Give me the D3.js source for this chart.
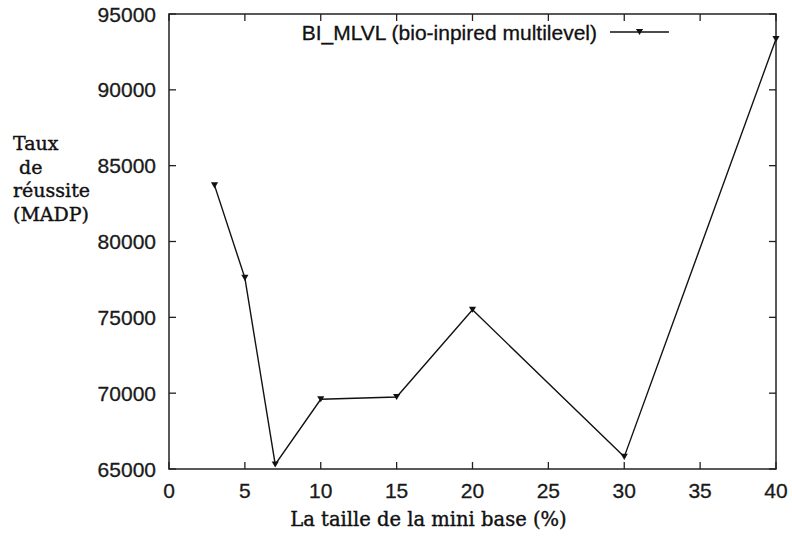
<!DOCTYPE html>
<html><head><meta charset="utf-8">
<script src="https://cdn.jsdelivr.net/npm/d3@7"></script>
<style>body{margin:0;background:#fff}svg{display:block}</style>
</head><body><svg id="c" width="792" height="538"></svg>
<script>
const xValues = [3, 5, 7, 10, 15, 20, 30, 40];
const yValues = [83700, 77600, 65300, 69600, 69750, 75500, 65800, 93350];
const xTicks = [0, 5, 10, 15, 20, 25, 30, 35, 40];
const yTicks = [65000, 70000, 75000, 80000, 85000, 90000, 95000];
const seriesName = "BI_MLVL (bio-inpired multilevel)";
const xTitle = "La taille de la mini base (%)";
const yTitleLines = ["Taux", " de", "réussite", "(MADP)"];

const svg = d3.select("#c");
const L = 169, R = 776, T = 14, B = 469;
const x = d3.scaleLinear().domain([0, 40]).range([L, R]);
const y = d3.scaleLinear().domain([65000, 95000]).range([B, T]);
const axisColor = "#222";
const sans = "'Liberation Sans', Arial, sans-serif";
const serif = "'DejaVu Serif', serif";

// ticks (inward, mirrored)
const tl = 7;
const g = svg.append("g").attr("stroke", axisColor).attr("stroke-width", 1.3);
xTicks.forEach(t => {
  g.append("line").attr("x1", x(t)).attr("x2", x(t)).attr("y1", B).attr("y2", B - tl);
  g.append("line").attr("x1", x(t)).attr("x2", x(t)).attr("y1", T).attr("y2", T + tl);
});
yTicks.forEach(t => {
  g.append("line").attr("x1", L).attr("x2", L + tl).attr("y1", y(t)).attr("y2", y(t));
  g.append("line").attr("x1", R).attr("x2", R - tl).attr("y1", y(t)).attr("y2", y(t));
});
svg.append("rect").attr("x", L).attr("y", T).attr("width", R - L).attr("height", B - T)
  .attr("fill", "none").attr("stroke", axisColor).attr("stroke-width", 1.5);

// tick labels
const tickStyle = sel => sel.attr("font-family", sans).attr("font-size", 21)
  .attr("fill", "#1a1a1a").attr("stroke", "#1a1a1a").attr("stroke-width", 0.3);
svg.append("g").selectAll("text").data(xTicks).join("text")
  .attr("x", d => x(d)).attr("y", 497.5).attr("text-anchor", "middle").call(tickStyle).text(d => d);
svg.append("g").selectAll("text").data(yTicks).join("text")
  .attr("x", 156).attr("y", d => y(d) + 7.5).attr("text-anchor", "end").call(tickStyle).text(d => d);

// titles
const serifStyle = sel => sel.attr("font-family", serif).attr("font-size", 19.5)
  .attr("fill", "#111").attr("stroke", "#111").attr("stroke-width", 0.4);
svg.append("text").attr("x", 428.5).attr("y", 526).attr("text-anchor", "middle")
  .call(serifStyle).text(xTitle);
const yt = svg.append("text").call(serifStyle).attr("font-size", 19).attr("xml:space", "preserve");
yTitleLines.forEach((s, i) => {
  yt.append("tspan").attr("x", 13).attr("y", 150 + i * 23.5).text(s);
});

// line
const line = d3.line().x((d, i) => x(xValues[i])).y(d => y(d));
svg.append("path").datum(yValues).attr("d", line).attr("fill", "none")
  .attr("stroke", "#111").attr("stroke-width", 1.4);
const tri = d3.symbol().type(d3.symbolTriangle).size(22);
svg.append("g").selectAll("path").data(yValues).join("path")
  .attr("d", tri).attr("transform", (d, i) => `translate(${x(xValues[i])},${y(d) - 1}) rotate(180)`)
  .attr("fill", "#111");

// legend
svg.append("text").attr("x", 597).attr("y", 40).attr("text-anchor", "end")
  .call(tickStyle).attr("fill", "#111").attr("stroke", "#111").text(seriesName);
svg.append("line").attr("x1", 610).attr("x2", 669).attr("y1", 32).attr("y2", 32)
  .attr("stroke", "#111").attr("stroke-width", 1.4);
svg.append("path").attr("d", tri).attr("transform", "translate(639.5,31) rotate(180)").attr("fill", "#111");
</script></body></html>
